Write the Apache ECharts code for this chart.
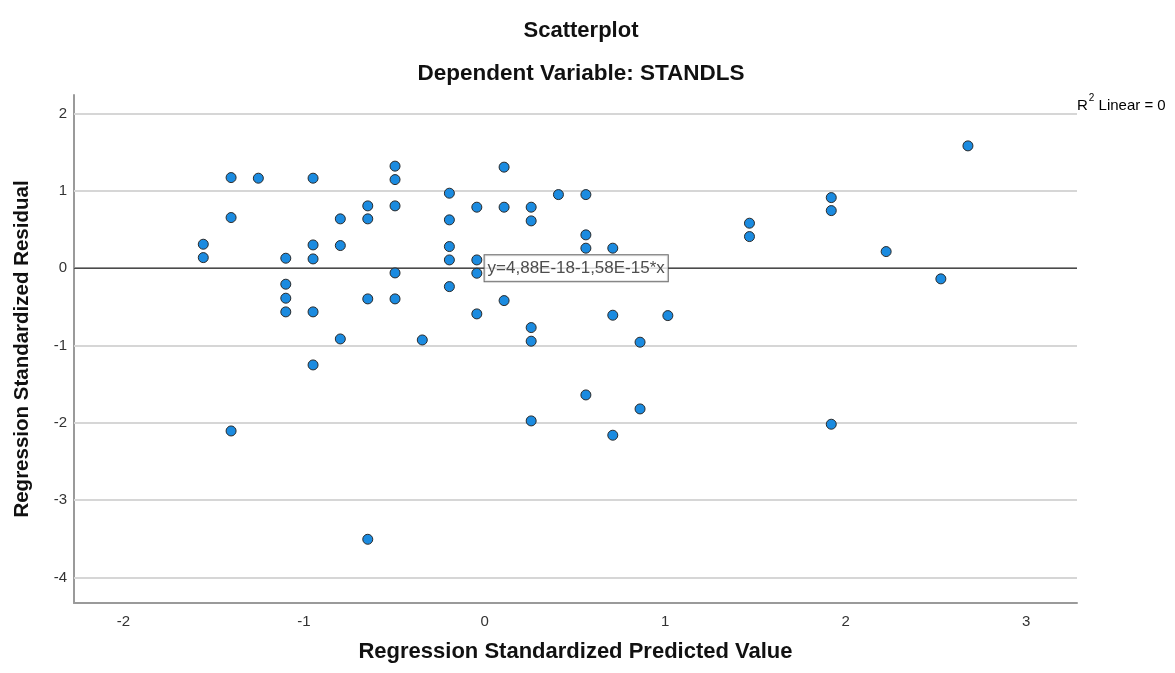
<!DOCTYPE html>
<html>
<head>
<meta charset="utf-8">
<script src="https://cdn.jsdelivr.net/npm/echarts@6/dist/echarts.min.js"></script>
<style>
  html, body { margin: 0; padding: 0; background: #fff; }
  #chart { width: 1175px; height: 673px; }
</style>
</head>
<body>
<div id="chart"></div>
<script>
// regression standardized predicted value (x) / residual (y)
const predicted = [
  -1.558, -1.558, -1.404, -1.404, -1.404, -1.253,
  -1.101, -1.101, -1.101, -1.101,
  -0.950, -0.950, -0.950, -0.950, -0.950,
  -0.799, -0.799, -0.799,
  -0.647, -0.647, -0.647, -0.647,
  -0.496, -0.496, -0.496, -0.496, -0.496,
  -0.345,
  -0.195, -0.195, -0.195, -0.195, -0.195,
  -0.043, -0.043, -0.043, -0.043,
  0.108, 0.108, 0.108,
  0.258, 0.258, 0.258, 0.258, 0.258,
  0.409,
  0.561, 0.561, 0.561, 0.561,
  0.710, 0.710, 0.710,
  0.861, 0.861,
  1.015,
  1.467, 1.467,
  1.920, 1.920, 1.920,
  2.224, 2.527, 2.677
];
const residual = [
  0.310, 0.137, 1.172, 0.655, -2.105, 1.164,
  0.129, -0.207, -0.388, -0.565,
  1.164, 0.301, 0.120, -0.565, -1.251,
  0.638, 0.293, -0.915,
  0.806, 0.638, -0.397, -3.506,
  1.320, 1.146, 0.806, -0.061, -0.397,
  -0.928,
  0.970, 0.625, 0.280, 0.107, -0.238,
  0.789, 0.107, -0.065, -0.591,
  1.307, 0.789, -0.419,
  0.789, 0.612, -0.768, -0.944, -1.975,
  0.952,
  0.952, 0.431, 0.259, -1.639,
  0.259, -0.608, -2.160,
  -0.957, -1.820,
  -0.613,
  0.582, 0.409,
  0.913, 0.745, -2.018,
  0.215, -0.138, 1.582
];
const yTicks = [-4, -3, -2, -1, 0, 1, 2];
const xTicks = [-2, -1, 0, 1, 2, 3];

// fit line from the chart
const intercept = 4.88e-18;
const slope = -1.58e-15;
const fitText = 'y=4,88E-18-1,58E-15*x';

const xMin = -2.274, xMax = 3.281;
const yMin = -4.33, yMax = 2.24;

const font = '"Liberation Sans", Arial, sans-serif';

const points = predicted.map((x, i) => [x, residual[i]]);
const fitLine = [xMin, xMax].map(x => [x, intercept + slope * x]);

const myChart = echarts.init(document.getElementById('chart'));
const option = {
  backgroundColor: '#fff',
  animation: false,
  title: [
    {
      text: 'Scatterplot',
      left: 576, top: 15, textAlign: 'center',
      textStyle: { fontFamily: font, fontSize: 22, fontWeight: 'bold', color: '#111' }
    },
    {
      text: 'Dependent Variable: STANDLS',
      left: 576, top: 57, textAlign: 'center',
      textStyle: { fontFamily: font, fontSize: 22.5, fontWeight: 'bold', color: '#111' }
    }
  ],
  grid: { left: 74, right: 98, top: 95, bottom: 70, containLabel: false },
  xAxis: {
    type: 'value',
    min: xMin, max: xMax,
    name: 'Regression Standardized Predicted Value',
    nameLocation: 'middle', nameGap: 38,
    nameTextStyle: { fontFamily: font, fontSize: 22, fontWeight: 'bold', color: '#111' },
    axisLine: { show: true, onZero: false, lineStyle: { color: '#9a9a9a', width: 2 } },
    axisTick: { show: false },
    splitLine: { show: false },
    axisLabel: {
      margin: 11, fontFamily: font, fontSize: 15, color: '#333',
      showMinLabel: false, showMaxLabel: false,
      formatter: v => xTicks.includes(v) ? String(v) : ''
    }
  },
  yAxis: {
    type: 'value',
    min: yMin, max: yMax,
    name: 'Regression Standardized Residual',
    nameLocation: 'middle', nameGap: 41, nameRotate: 90,
    nameTextStyle: { fontFamily: font, fontSize: 20.5, fontWeight: 'bold', color: '#111' },
    axisLine: { show: true, onZero: false, lineStyle: { color: '#9a9a9a', width: 2 } },
    axisTick: { show: false },
    splitLine: { show: false },
    axisLabel: {
      margin: 7, fontFamily: font, fontSize: 15, color: '#333',
      showMinLabel: false, showMaxLabel: false,
      formatter: v => yTicks.includes(v) ? String(v) : ''
    }
  },
  graphic: [
    {
      type: 'text',
      left: 1077, top: 93,
      style: {
        text: '{a|R}{s|2}{a| Linear = 0}',
        rich: {
          a: { fontFamily: font, fontSize: 15, color: '#222', lineHeight: 20, verticalAlign: 'bottom' },
          s: { fontFamily: font, fontSize: 10, color: '#222', lineHeight: 20, verticalAlign: 'top', padding: [0, 0, 0, 1] }
        }
      }
    }
  ],
  series: [
    {
      // horizontal grid lines at the tick values
      type: 'line',
      data: [],
      silent: true,
      z: 1,
      markLine: {
        z: 1,
        silent: true,
        symbol: 'none',
        label: { show: false },
        lineStyle: { color: '#d6d6d6', width: 2, type: 'solid' },
        data: yTicks.map(v => ({ yAxis: v }))
      }
    },
    {
      type: 'line',
      data: fitLine,
      showSymbol: false,
      symbol: 'none',
      silent: true,
      z: 2,
      lineStyle: { color: '#4a4a4a', width: 1.5 }
    },
    {
      type: 'scatter',
      data: points,
      symbol: 'circle',
      symbolSize: 10,
      z: 3,
      itemStyle: { color: '#1b8be0', borderColor: '#2a2a2a', borderWidth: 1, opacity: 1 }
    },
    {
      type: 'scatter',
      data: [[0, intercept]],
      symbolSize: 0,
      silent: true,
      z: 4,
      label: {
        show: true,
        position: 'right',
        distance: 0,
        formatter: fitText,
        fontFamily: font,
        fontSize: 17,
        color: '#222',
        backgroundColor: '#fff',
        borderColor: '#444',
        borderWidth: 1,
        padding: [5, 3, 4, 3]
      }
    }
  ]
};
option && myChart.setOption(option);
</script>
</body>
</html>
